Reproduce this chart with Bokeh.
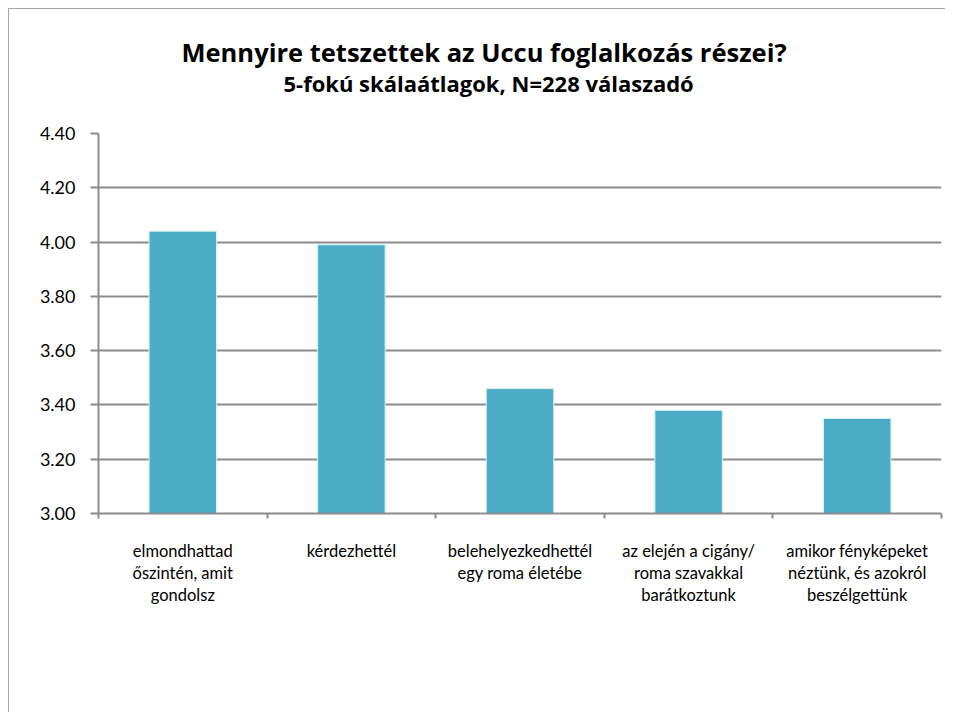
from bokeh.plotting import figure
from bokeh.layouts import column
from bokeh.models import Range1d, FixedTicker, Title, ColumnDataSource
from bokeh.embed import file_html
from bokeh.resources import INLINE

title_text = "Mennyire tetszettek az Uccu foglalkozás részei?"
subtitle_text = "5-fokú skálaátlagok, N=228 válaszadó"
categories = [
    "elmondhattad\nőszintén, amit\ngondolsz",
    "kérdezhettél",
    "belehelyezkedhettél\negy roma életébe",
    "az elején a cigány/\nroma szavakkal\nbarátkoztunk",
    "amikor fényképeket\nnéztünk, és azokról\nbeszélgettünk",
]
values = [4.04, 3.99, 3.46, 3.38, 3.35]
y_ticks = [3.0, 3.2, 3.4, 3.6, 3.8, 4.0, 4.2, 4.4]

FONT = "Lato"
TFONT = "Open Sans"
positions = [i + 0.5 for i in range(len(categories))]
boundaries = [i for i in range(len(categories) + 1)]

src = ColumnDataSource(dict(x=positions, top=values, bottom=[y_ticks[0]] * len(values)))

p = figure(width=937, height=704, output_backend="svg", toolbar_location=None,
           x_range=Range1d(0, len(categories)), y_range=Range1d(y_ticks[0], y_ticks[-1]),
           min_border_left=89, min_border_right=5, min_border_bottom=200, min_border_top=124)
p.title.text = ""
p.title.visible = False
p.styles = {"border-left": "1px solid #a6a6a6", "border-top": "1px solid #a6a6a6"}

spacer = Title(text=" ", text_font_size="10px", standoff=23)
sub = Title(text=subtitle_text, align="left", offset=185,
            text_font=TFONT, text_font_size="22px", text_font_style="bold",
            text_color="#000000", standoff=0)
main = Title(text=title_text, align="left", offset=83,
             text_font=TFONT, text_font_size="25.5px", text_font_style="bold",
             text_color="#000000", standoff=-7)
p.add_layout(spacer, "above")
p.add_layout(sub, "above")
p.add_layout(main, "above")

p.vbar(x="x", top="top", bottom="bottom", width=0.4, source=src,
       fill_color="#4BACC6", line_color="#d6eef4", line_width=1)

p.outline_line_color = None
p.background_fill_color = "white"
p.border_fill_color = "white"

p.xgrid.visible = False
p.ygrid.ticker = FixedTicker(ticks=y_ticks)
p.ygrid.grid_line_color = "#8c8c8c"
p.ygrid.grid_line_width = 2
p.ygrid.level = "underlay"

p.yaxis.ticker = FixedTicker(ticks=y_ticks)
p.yaxis.major_label_overrides = {t: f"{t:.2f}" for t in y_ticks}
p.yaxis.axis_line_color = "#8c8c8c"
p.yaxis.axis_line_width = 2
p.yaxis.major_tick_line_color = "#8c8c8c"
p.yaxis.major_tick_line_width = 2
p.yaxis.major_tick_in = 0
p.yaxis.major_tick_out = 8
p.yaxis.minor_tick_line_color = None
p.yaxis.major_label_text_font = FONT
p.yaxis.major_label_text_font_size = "18px"
p.yaxis.major_label_text_color = "#000000"
p.yaxis.major_label_standoff = 15

p.xaxis.ticker = FixedTicker(ticks=positions, minor_ticks=boundaries)
p.xaxis.major_label_overrides = {pos: c for pos, c in zip(positions, categories)}
p.xaxis.axis_line_color = "#8c8c8c"
p.xaxis.axis_line_width = 2
p.xaxis.major_tick_line_color = None
p.xaxis.minor_tick_line_color = "#8c8c8c"
p.xaxis.minor_tick_line_width = 2
p.xaxis.minor_tick_in = 0
p.xaxis.minor_tick_out = 5
p.xaxis.major_label_text_font = FONT
p.xaxis.major_label_text_font_size = "16.5px"
p.xaxis.major_label_text_color = "#000000"
p.xaxis.major_label_standoff = 21
p.xaxis.major_label_text_line_height = 1.12

layout = column(p, styles={"padding-left": "8px", "padding-top": "8px", "background": "white"})

open("out.html", "w").write(file_html(layout, INLINE))
